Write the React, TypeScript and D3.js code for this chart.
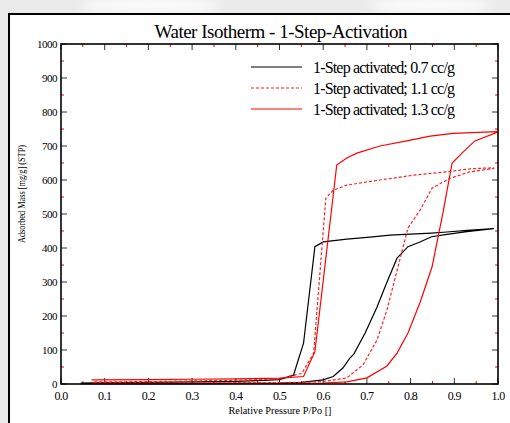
import React from "react";
import * as d3 from "d3";

// ---- data (relative pressure, adsorbed mass mg/g) ----
const blackAdsP = [0.045, 0.1, 0.2, 0.3, 0.4, 0.5, 0.55, 0.6, 0.623, 0.645, 0.661, 0.67, 0.696, 0.723, 0.746, 0.769, 0.794, 0.82, 0.848, 0.883, 0.929, 0.99];
const blackAdsV = [1, 1, 1, 1, 2, 3, 5, 12, 22, 47, 76, 88, 150, 226, 300, 370, 404, 417, 433, 440, 448, 457];
const blackDesP = [0.99, 0.929, 0.883, 0.848, 0.8, 0.753, 0.707, 0.654, 0.6, 0.581, 0.555, 0.532, 0.5, 0.45, 0.4, 0.3, 0.2, 0.1, 0.045];
const blackDesV = [457, 452, 447, 444, 441, 438, 432, 426, 418, 404, 120, 26, 13, 10, 8, 6, 5, 4, 3];

const dashAdsP = [0.073, 0.2, 0.3, 0.4, 0.5, 0.55, 0.6, 0.654, 0.691, 0.723, 0.746, 0.771, 0.794, 0.822, 0.849, 0.89, 0.936, 0.99];
const dashAdsV = [3, 3, 3, 3, 4, 5, 7, 18, 56, 129, 218, 344, 459, 512, 576, 605, 624, 634];
const dashDesP = [0.99, 0.936, 0.883, 0.806, 0.73, 0.654, 0.623, 0.606, 0.578, 0.551, 0.5, 0.4, 0.3, 0.2, 0.073];
const dashDesV = [636, 633, 624, 614, 600, 585, 570, 546, 90, 31, 15, 11, 9, 7, 6];

const solidAdsP = [0.07, 0.2, 0.3, 0.4, 0.5, 0.6, 0.654, 0.7, 0.746, 0.769, 0.794, 0.822, 0.849, 0.874, 0.895, 0.92, 0.947, 0.998];
const solidAdsV = [2, 2, 2, 2, 2, 3, 6, 18, 53, 91, 150, 241, 344, 503, 650, 682, 715, 740];
const solidDesP = [0.998, 0.897, 0.845, 0.791, 0.73, 0.677, 0.654, 0.631, 0.581, 0.555, 0.5, 0.4, 0.3, 0.2, 0.07];
const solidDesV = [742, 737, 729, 715, 700, 679, 665, 644, 95, 22, 17, 15, 14, 13, 12];

const xTicks = [0, 0.1, 0.2, 0.3, 0.4, 0.5, 0.6, 0.7, 0.8, 0.9, 1.0];
const yTicks = [0, 100, 200, 300, 400, 500, 600, 700, 800, 900, 1000];
const legendLabels = ["1-Step activated; 0.7 cc/g", "1-Step activated; 1.1 cc/g", "1-Step activated; 1.3 cc/g"];

const FONT = "Liberation Serif, DejaVu Serif, serif";
const ts = { fontFamily: FONT };

export default function App() {
  const W = 510, H = 423;
  const x0 = 61, x1 = 498, y0 = 384, y1 = 44;
  const x = d3.scaleLinear().domain([0, 1]).range([x0, x1]);
  const y = d3.scaleLinear().domain([0, 1000]).range([y0, y1]);
  const line = d3.line<number[]>().x(d => x(d[0])).y(d => y(d[1]));
  const loop = (ap: number[], av: number[], dp: number[], dv: number[]) =>
    line([...ap.map((p, i) => [p, av[i]]), ...dp.map((p, i) => [p, dv[i]])]) || "";

  const series = [
    { d: loop(blackAdsP, blackAdsV, blackDesP, blackDesV), color: "#000", dash: undefined },
    { d: loop(dashAdsP, dashAdsV, dashDesP, dashDesV), color: "#ff2020", dash: "3,2" },
    { d: loop(solidAdsP, solidAdsV, solidDesP, solidDesV), color: "#ff0000", dash: undefined },
  ];

  const minorX = d3.range(0.05, 1, 0.1);
  const minorY = d3.range(50, 1000, 100);

  return (
    <svg width={W} height={H} style={{ position: "absolute", left: 0, top: 0, fontFamily: FONT }}>
      <defs>
        <filter id="blur" x="-50%" y="-50%" width="200%" height="200%">
          <feGaussianBlur stdDeviation="6" />
        </filter>
      </defs>
      <rect x={0} y={0} width={W} height={H} fill="#ebebeb" />
      <ellipse cx={150} cy={5} rx={70} ry={10} fill="#fafafa" filter="url(#blur)" />
      <ellipse cx={430} cy={5} rx={60} ry={10} fill="#fafafa" filter="url(#blur)" />
      <rect x={9} y={14} width={W + 10} height={H + 10} fill="#fff" stroke="#000" strokeWidth={2} />

      <text style={ts} x={281} y={37.5} textAnchor="middle" fontSize={19} textLength={253} lengthAdjust="spacing">
        Water Isotherm - 1-Step-Activation
      </text>

      {/* ticks */}
      {xTicks.map(t => (
        <g key={"xt" + t}>
          <line x1={x(t)} x2={x(t)} y1={y0} y2={y0 - 6} stroke="#333" strokeWidth={1} />
          <line x1={x(t)} x2={x(t)} y1={y1} y2={y1 + 6} stroke="#333" strokeWidth={1} />
          <text style={ts} x={x(t)} y={399.5} textAnchor="middle" fontSize={12} letterSpacing={-0.6}>{t.toFixed(1)}</text>
        </g>
      ))}
      {minorX.map(t => (
        <g key={"xm" + t}>
          <line x1={x(t)} x2={x(t)} y1={y0} y2={y0 - 3} stroke="#ff0000" strokeWidth={1} />
          <line x1={x(t)} x2={x(t)} y1={y1} y2={y1 + 3} stroke="#ff0000" strokeWidth={1} />
        </g>
      ))}
      {yTicks.map(t => (
        <g key={"yt" + t}>
          <line x1={x0} x2={x0 + 6} y1={y(t)} y2={y(t)} stroke="#333" strokeWidth={1} />
          <line x1={x1} x2={x1 - 6} y1={y(t)} y2={y(t)} stroke="#333" strokeWidth={1} />
          <text style={ts} x={57} y={y(t) + 3.5} textAnchor="end" fontSize={11} letterSpacing={-0.5}>{t}</text>
        </g>
      ))}
      {minorY.map(t => (
        <g key={"ym" + t}>
          <line x1={x0} x2={x0 + 3} y1={y(t)} y2={y(t)} stroke="#ff0000" strokeWidth={1} />
          <line x1={x1} x2={x1 - 3} y1={y(t)} y2={y(t)} stroke="#ff0000" strokeWidth={1} />
        </g>
      ))}

      {/* curves */}
      {series.map((s, i) => (
        <path key={i} d={s.d} fill="none" stroke={s.color} strokeWidth={1.2} strokeDasharray={s.dash} />
      ))}

      {/* plot frame */}
      <rect x={x0} y={y1} width={x1 - x0} height={y0 - y1} fill="none" stroke="#000" strokeWidth={1.6} />

      {/* legend */}
      {series.map((s, i) => (
        <g key={"lg" + i}>
          <line x1={251} x2={302} y1={67 + i * 21} y2={67 + i * 21} stroke={s.color} strokeWidth={1.2} strokeDasharray={s.dash} />
          <text style={ts} x={313} y={72.5 + i * 21} fontSize={16} textLength={142} lengthAdjust="spacing">{legendLabels[i]}</text>
        </g>
      ))}

      <text style={ts} x={280} y={414} textAnchor="middle" fontSize={11} textLength={103} lengthAdjust="spacingAndGlyphs">
        Relative Pressure P/Po []
      </text>
      <text style={ts} transform="translate(24.5,194) rotate(-90)" textAnchor="middle" fontSize={11} textLength={98} lengthAdjust="spacingAndGlyphs">
        Adsorbed Mass [mg/g] (STP)
      </text>
    </svg>
  );
}
